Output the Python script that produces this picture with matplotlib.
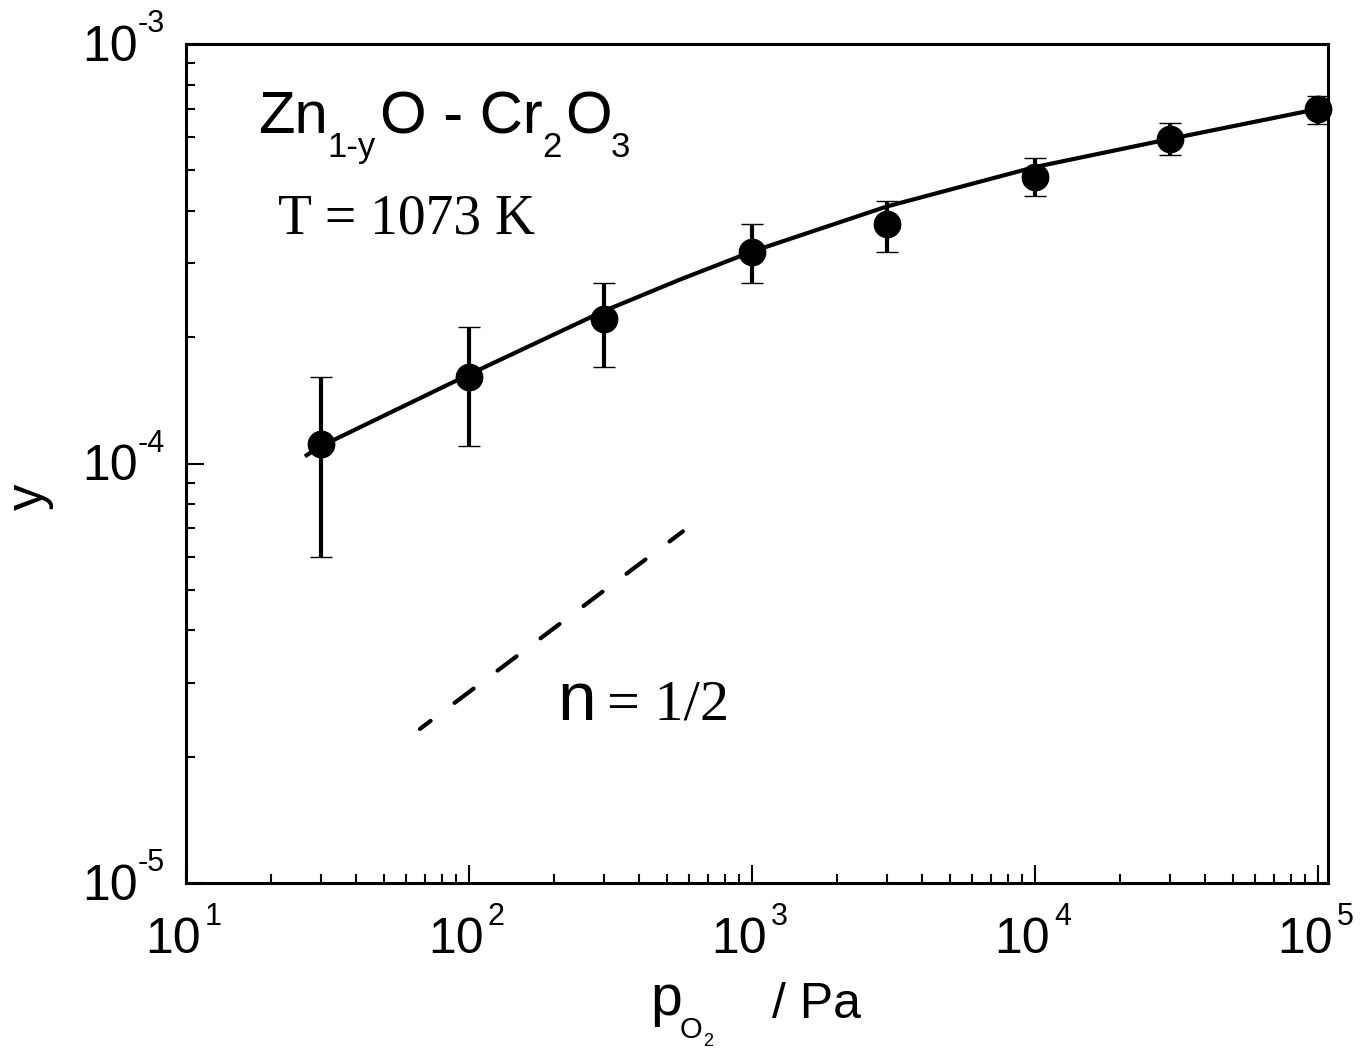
import matplotlib
matplotlib.use("Agg")
import matplotlib.pyplot as plt
from matplotlib.ticker import LogLocator, NullFormatter

# ---------------- data ----------------
p_o2 = [30, 100, 300, 1000, 3000, 10000, 30000, 100000]
y_val = [1.11e-4, 1.61e-4, 2.21e-4, 3.20e-4, 3.72e-4, 4.81e-4, 5.93e-4, 7.00e-4]
y_hi = [1.61e-4, 2.11e-4, 2.70e-4, 3.72e-4, 4.22e-4, 5.34e-4, 6.48e-4, 7.51e-4]
y_lo = [6.0e-5, 1.10e-4, 1.70e-4, 2.70e-4, 3.20e-4, 4.34e-4, 5.43e-4, 6.44e-4]

fit_x = [26.3, 30, 100, 300, 561, 1000, 3000, 10000, 30800, 100000]
fit_y = [1.04e-4, 1.10e-4, 1.63e-4, 2.31e-4, 2.75e-4, 3.20e-4, 4.10e-4, 5.09e-4, 5.96e-4, 7.00e-4]

slope_x = [67.1, 570]
slope_y = [2.33e-5, 6.89e-5]

x_decades = [1, 2, 3, 4, 5]
y_decades = [-3, -4, -5]

W, H = 1361, 1050
fig = plt.figure(figsize=(W / 100, H / 100), dpi=100)
ax = fig.add_axes([186 / W, 1 - 883 / H, (1328 - 186) / W, (883 - 44) / H])

ax.set_xscale("log")
ax.set_yscale("log")
ax.set_xlim(10, 1.085e5)
ax.set_ylim(1e-5, 1e-3)

for s in ax.spines.values():
    s.set_linewidth(2.2)

ax.xaxis.set_major_locator(LogLocator(base=10, numticks=10))
ax.xaxis.set_minor_locator(LogLocator(base=10, subs=range(2, 10), numticks=20))
ax.yaxis.set_major_locator(LogLocator(base=10, numticks=10))
ax.yaxis.set_minor_locator(LogLocator(base=10, subs=range(2, 10), numticks=20))
ax.xaxis.set_major_formatter(NullFormatter())
ax.xaxis.set_minor_formatter(NullFormatter())
ax.yaxis.set_major_formatter(NullFormatter())
ax.yaxis.set_minor_formatter(NullFormatter())
ax.tick_params(which="both", direction="in", top=False, right=False, width=1.5)
ax.tick_params(which="major", length=13)
ax.tick_params(which="minor", length=6.5)

# fitted curve
ax.plot(fit_x, fit_y, color="k", lw=3.0, zorder=2, solid_capstyle="butt",
        solid_joinstyle="round")

# data points with error bars
yerr = [[v - l for v, l in zip(y_val, y_lo)], [h - v for v, h in zip(y_val, y_hi)]]
ax.errorbar(p_o2, y_val, yerr=yerr, fmt="o", color="k", ms=19, mew=1,
            elinewidth=3.0, capsize=8, capthick=3.4, zorder=3, clip_on=False)

# slope guide line
ax.plot(slope_x, slope_y, color="k", lw=3.0, ls=(2.5, (5.7, 7.2)),
        dash_capstyle="round")

SANS = "Liberation Sans"
SERIF = "Liberation Serif"


def fig_text(x, y_img, s, size, family=SANS, **kw):
    ax.annotate(s, xy=(x, H - y_img), xycoords="figure pixels",
                ha=kw.pop("ha", "left"), va=kw.pop("va", "baseline"),
                fontsize=size, family=family, **kw)


# x tick labels
for d in x_decades:
    ax.annotate("10", xy=(10 ** d, 0), xycoords=ax.get_xaxis_transform(),
                xytext=(15, -70), textcoords="offset pixels", ha="right",
                va="baseline", fontsize=36, family=SANS, annotation_clip=False)
    ax.annotate(str(d), xy=(10 ** d, 0), xycoords=ax.get_xaxis_transform(),
                xytext=(19, -42), textcoords="offset pixels", ha="left",
                va="baseline", fontsize=22, family=SANS, annotation_clip=False)

# y tick labels
for e in y_decades:
    ax.annotate("10", xy=(0, 10.0 ** e), xycoords=ax.get_yaxis_transform(),
                xytext=(-48, -17), textcoords="offset pixels", ha="right",
                va="baseline", fontsize=36, family=SANS, annotation_clip=False)
    ax.annotate("-" + str(-e), xy=(0, 10.0 ** e), xycoords=ax.get_yaxis_transform(),
                xytext=(-48, 12), textcoords="offset pixels", ha="left",
                va="baseline", fontsize=22, family=SANS, annotation_clip=False)

# axis labels
ax.annotate("y", xy=(43, H - 497), xycoords="figure pixels", rotation=90,
            rotation_mode="anchor", ha="center", va="baseline", fontsize=38,
            family=SANS)
fig_text(650, 1015, "p", 41)
fig_text(680, 1038, "O", 21)
fig_text(703, 1046, "2", 13)
fig_text(772, 1018, "/ Pa", 36)

# title block
fig_text(258, 133, "Zn", 43)
fig_text(327, 157, "1-y", 25)
fig_text(380, 133, "O - Cr", 43)
fig_text(542, 157, "2", 25)
fig_text(565, 133, "O", 43)
fig_text(611, 157, "3", 25)
fig_text(278, 233, "T = 1073 K", 40, family=SERIF)

# slope annotation
fig_text(557, 720, "n", 50)
fig_text(607, 720, "= 1/2", 42, family=SERIF)

fig.savefig("out.png", dpi=100)
